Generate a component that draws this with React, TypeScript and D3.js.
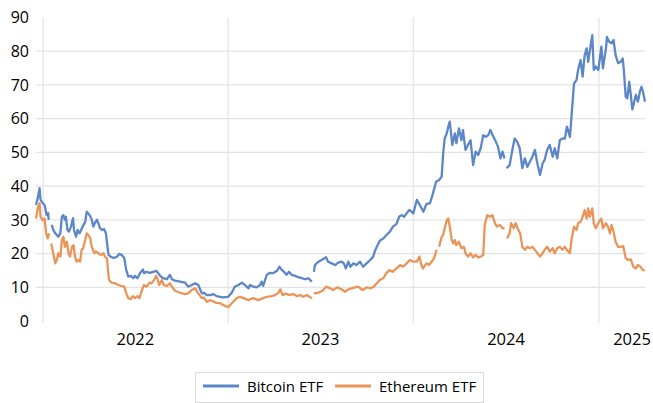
import React from 'react';
import * as d3 from 'd3';

const W = 653;
const H = 403;

const yTicks = [0, 10, 20, 30, 40, 50, 60, 70, 80, 90];
const gridTicks = [10, 20, 30, 40, 50, 60, 70, 80];
const years = [2022, 2023, 2024, 2025];
const seriesNames = ['Bitcoin ETF', 'Ethereum ETF'];
const seriesColors = ['#5b87c8', '#e9955a'];

// [days since 2022-01-01, value]; null = missing data (gap in the line)
const btcSeries: [number, number | null][] = [
  [-14, 34.4], [-10, 36.8], [-7, 39.4], [-5, 35.9], [-1, 35], [3, 34.4], [7, 31.4], [10, 32], [11, 30], [13, null],
  [17, 28.5], [20, 27], [24, 26], [27, 25.5], [30, 25], [34, 26], [37, 30.9], [40, 31.4], [43, 30], [45, 30.9],
  [48, 27], [51, 26.5], [55, 28], [59, 30.5], [61, 27], [65, 25], [68, 27], [72, 26], [75, 27], [78, 28],
  [83, 29.4], [86, 32.4], [89, 31.9], [93, 31.1], [96, 30], [99, 28], [102, 29], [106, 30], [109, 29], [112, 27.6],
  [116, 27], [120, 27.3], [124, 26], [127, 22], [129, 19.6], [133, 19.1], [139, 18.7], [145, 19], [150, 19.9], [155, 19.6],
  [160, 18.7], [164, 15.1], [168, 13.2], [173, 13.4], [178, 12.7], [181, 13.4], [186, 12.7], [191, 14.2], [197, 15.3], [199, 14.2],
  [204, 14.6], [211, 14.3], [217, 14.6], [223, 14.9], [227, 14.2], [232, 13.2], [237, 12.7], [244, 12.4], [250, 13.7], [254, 12.4],
  [260, 12], [270, 11.7], [280, 11.4], [286, 10.2], [293, 10.7], [300, 11.2], [306, 10.7], [313, 8.2], [317, 8.4], [323, 7.7],
  [329, 7.7], [336, 8], [342, 7.4], [349, 7.2], [355, 7.0], [365, 7.2], [372, 8.4], [378, 10.2], [385, 10.7], [392, 11.4],
  [398, 10.7], [405, 9.7], [408, 10.7], [415, 10.2], [421, 10], [428, 10.7], [431, 11.7], [434, 10.4], [441, 13.7], [447, 14.3],
  [454, 14.2], [461, 14.9], [466, 16.1], [470, 15.3], [475, 14.6], [480, 13.7], [485, 14.6], [490, 13.7], [497, 13.4], [503, 13],
  [510, 12.7], [517, 12.4], [523, 12.7], [530, 11.7], [532, null], [534, 14.6], [536, 16.6], [543, 17.6], [549, 18.1], [558, 18.9],
  [562, 17.6], [569, 17.1], [576, 16.6], [582, 17.3], [589, 17.6], [593, 17.1], [597, 15.6], [602, 17.6], [606, 16.1], [612, 17.1],
  [618, 16.6], [625, 17.6], [631, 16.1], [638, 17.1], [645, 18.1], [651, 19.1], [654, 20.6], [658, 22], [664, 23.8], [671, 24.5],
  [677, 25.5], [684, 26.5], [690, 28], [697, 28.8], [702, 30.9], [707, 31.4], [712, 30.9], [717, 31.9], [722, 32.9], [727, 32.4],
  [730, 31.9], [737, 35.9], [743, 34.4], [750, 32.4], [756, 34.7], [763, 34.9], [769, 37.9], [775, 41.3], [781, 41.8], [786, 42.8],
  [789, 49.7], [792, 54.1], [796, 55.6], [799, 57.6], [802, 59.1], [807, 52.2], [812, 55.6], [815, 52.7], [820, 57.1], [825, 53.6],
  [828, 56.6], [833, 50.7], [838, 52.2], [843, 53.6], [848, 46.2], [853, 50.2], [858, 49.2], [863, 51.2], [868, 55.1], [873, 54.6],
  [878, 55.1], [882, 56.6], [888, 54.6], [893, 53.1], [897, 51.7], [902, 48.2], [906, 50.2], [910, 48.2], [912, null], [914, 45.3],
  [920, 46.2], [926, 51.2], [930, 54.1], [935, 53.1], [940, 51.2], [945, 45.3], [950, 48.2], [955, 45.7], [960, 47.2], [965, 48.7],
  [970, 50.7], [974, 47.2], [980, 43.3], [985, 46.7], [989, 47.7], [994, 50.7], [999, 52.2], [1005, 48.7], [1009, 51.2], [1014, 48.2],
  [1019, 53.6], [1024, 54.1], [1029, 54.1], [1033, 57.6], [1039, 54.6], [1042, 60.5], [1047, 70.4], [1052, 71.4], [1055, 74.4], [1060, 77.3],
  [1064, 72.4], [1068, 78.8], [1072, 80.8], [1075, 76.8], [1078, 79.8], [1083, 84.7], [1086, 74.4], [1090, 75.4], [1095, 74.4], [1098, 77.8],
  [1101, 81.3], [1104, 74.9], [1110, 80.8], [1112, 84.2], [1116, 82.8], [1121, 82.3], [1125, 83.3], [1129, 78.8], [1134, 76.4], [1139, 76.8],
  [1143, 77.8], [1145, 74.9], [1149, 66.5], [1152, 66], [1156, 70.9], [1159, 67], [1162, 62.7], [1165, 64.5], [1169, 67], [1173, 65],
  [1177, 68], [1180, 69.4], [1183, 68], [1187, 65],
];

const ethSeries: [number, number | null][] = [
  [-14, 30.4], [-10, 33.9], [-7, 34.9], [-5, 30.9], [-1, 29.9], [3, 30.4], [6, 26], [9, 24.5], [12, 26], [14, null],
  [16, 23], [20, 20.1], [24, 17.1], [27, 18.1], [30, 20.1], [34, 19.1], [37, 24], [40, 25], [43, 22], [47, 23.5],
  [50, 20.1], [53, 19.1], [57, 22], [60, 22.5], [63, 19.1], [66, 17.6], [70, 18.1], [73, 17.6], [76, 21.1], [79, 21.6],
  [83, 24], [86, 26], [89, 25.5], [93, 24.5], [96, 22], [101, 20.1], [104, 20.6], [109, 20.1], [114, 19.6], [119, 20.1],
  [122, 19.1], [126, 18.6], [128, 15.1], [130, 12.2], [135, 11.4], [142, 11.2], [148, 10.7], [155, 10.4], [160, 10.2], [164, 8.2],
  [168, 6.8], [173, 6.5], [177, 7.4], [181, 6.8], [186, 7.4], [190, 6.8], [195, 9.2], [199, 10.7], [204, 10.2], [210, 11.4],
  [214, 11.2], [219, 12.2], [223, 13.4], [225, 12.7], [229, 10.7], [234, 12.2], [238, 10.7], [244, 10.4], [250, 11.2], [254, 10.2],
  [260, 9], [270, 8.4], [280, 8], [286, 8.2], [293, 9.2], [300, 9.7], [306, 8.2], [313, 6.8], [317, 7], [323, 5.7],
  [329, 6.2], [336, 5.8], [342, 5.4], [349, 5.3], [359, 4.5], [365, 4.1], [372, 5.3], [382, 6.8], [388, 7.2], [395, 6.8],
  [405, 6.2], [414, 6.8], [424, 6.2], [434, 6.8], [441, 7.2], [451, 7.4], [457, 7.7], [464, 8.4], [468, 9.4], [472, 7.7],
  [479, 8.2], [485, 7.7], [493, 8], [500, 7.4], [507, 7.7], [513, 7.2], [520, 7.7], [530, 6.8], [532, null], [534, 8.2],
  [543, 8.4], [551, 9], [558, 10.2], [566, 9.7], [572, 9.2], [580, 10], [589, 9.4], [595, 8.7], [602, 9.4], [608, 9.7],
  [615, 10], [621, 10.2], [630, 9.2], [638, 10], [646, 9.7], [652, 10.2], [658, 11.2], [664, 12.2], [671, 12.7], [677, 14.2],
  [683, 15.1], [689, 14.6], [697, 15.6], [704, 16.6], [710, 16.1], [717, 17.1], [723, 18.1], [730, 17.6], [737, 17.6], [742, 19.1],
  [746, 16.6], [749, 15.6], [756, 17.1], [761, 16.6], [766, 17.6], [771, 18.6], [776, 21.1], [778, null], [781, 22], [786, 25],
  [789, 25.5], [792, 27.5], [796, 29.9], [799, 30.4], [802, 28], [806, 24], [809, 23], [812, 24], [815, 22.5], [820, 23.5],
  [825, 21.6], [830, 22], [833, 20.1], [838, 19.1], [843, 20.1], [848, 18.9], [853, 19.6], [858, 18.9], [863, 19.1], [868, 19.6],
  [871, 28.5], [876, 31.4], [881, 30.9], [886, 31.4], [891, 29], [895, 28], [901, 28.5], [906, 27.5], [910, 27.5], [912, null],
  [915, 24.5], [920, 26], [923, 29], [928, 27.5], [932, 29], [937, 27], [941, 26], [945, 22], [950, 21.1], [955, 22],
  [960, 21.6], [965, 22], [970, 21.1], [974, 20.3], [980, 19.1], [985, 20.1], [989, 21.1], [994, 22], [999, 20.6], [1005, 21.6],
  [1009, 20.1], [1014, 21.6], [1019, 22], [1024, 21.1], [1029, 22], [1033, 21.1], [1039, 20.1], [1042, 24], [1047, 28], [1052, 27],
  [1055, 29], [1060, 29.4], [1064, 30.9], [1068, 32.9], [1072, 30.4], [1075, 33.4], [1078, 30.9], [1083, 33.4], [1086, 29], [1090, 27.5],
  [1095, 29], [1098, 29.9], [1101, 30.4], [1104, 27.5], [1110, 29], [1114, 28], [1118, 26], [1121, 28.5], [1125, 26.5], [1129, 23.5],
  [1134, 22], [1139, 22], [1144, 22.2], [1149, 18.6], [1154, 18.1], [1159, 18.3], [1164, 16.1], [1169, 15.6], [1173, 16.6], [1178, 16.1],
  [1183, 15.1], [1187, 15],
];

const BASE = new Date(Date.UTC(2022, 0, 1));
const dayToDate = (d: number) => d3.utcDay.offset(BASE, d);

const FONT = "'Open Sans', 'Noto Sans', sans-serif";

export default function App() {
  const plotLeft = 36;
  const plotRight = 645;
  const x = d3
    .scaleUtc()
    .domain([dayToDate(-14), dayToDate(1187)])
    .range([plotLeft, plotRight]);
  const y = d3.scaleLinear().domain([0, 90]).range([321.1, 17.3]);

  const line = d3
    .line<[number, number | null]>()
    .defined((d) => d[1] != null)
    .x((d) => x(dayToDate(d[0])))
    .y((d) => y(d[1] as number));

  const allSeries = [btcSeries, ethSeries];

  return (
    <svg
      width={W}
      height={H}
      style={{ position: 'absolute', left: 0, top: 0, display: 'block', background: '#fff' }}
      fontFamily={FONT}
    >
      <rect x={0} y={0} width={W} height={H} fill="#fff" />
      {gridTicks.map((t) => (
        <line key={'h' + t} x1={plotLeft} x2={plotRight} y1={y(t)} y2={y(t)} stroke="#e3e3e3" strokeWidth={1.2} />
      ))}
      {years.map((yr) => {
        const xx = x(new Date(Date.UTC(yr, 0, 1)));
        return <line key={'v' + yr} x1={xx} x2={xx} y1={y(90)} y2={y(0) + 2} stroke="#e3e3e3" strokeWidth={1.2} />;
      })}
      {yTicks.map((t) => (
        <text key={'yl' + t} x={29} y={y(t)} dy="0.36em" textAnchor="end" fontSize={16} fill="#000">
          {t}
        </text>
      ))}
      {years.map((yr) => {
        const mid = x(new Date(Date.UTC(yr, 6, 2)));
        const cx = Math.min(mid, W - 21);
        return (
          <text key={'xl' + yr} x={cx} y={344.5} textAnchor="middle" fontSize={16.5} fill="#000">
            {yr}
          </text>
        );
      })}
      {allSeries.map((s, i) => (
        <path
          key={'s' + i}
          d={line(s) || ''}
          fill="none"
          stroke={seriesColors[i]}
          strokeWidth={2.3}
          strokeLinejoin="round"
          strokeLinecap="butt"
        />
      ))}
      <rect x={195.5} y={372.5} width={288} height={30} fill="#fff" stroke="#d9d9d9" strokeWidth={1} />
      <line x1={203} x2={239} y1={386} y2={386} stroke={seriesColors[0]} strokeWidth={3} />
      <text x={247} y={391.5} fontSize={15} fill="#000">
        {seriesNames[0]}
      </text>
      <line x1={335} x2={371} y1={386} y2={386} stroke={seriesColors[1]} strokeWidth={3} />
      <text x={379} y={391.5} fontSize={15} fill="#000">
        {seriesNames[1]}
      </text>
    </svg>
  );
}
